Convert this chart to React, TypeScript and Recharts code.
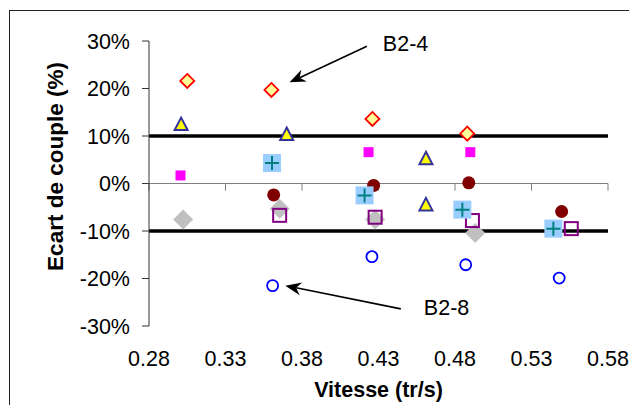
import { ScatterChart, Scatter, XAxis, YAxis, ReferenceLine } from "recharts";

const FONT = '"Liberation Sans", Arial, sans-serif';

const xTicks = [0.28, 0.33, 0.38, 0.43, 0.48, 0.53, 0.58];
const yTicks = [-30, -20, -10, 0, 10, 20, 30];
const limits = [10, -10];

// vitesse (tr/s) / écart de couple (%) per test series
const diamondX = [0.305, 0.36, 0.426, 0.488];
const diamondY = [21.6, 19.7, 13.6, 10.5];
const triangleX = [0.301, 0.37, 0.461, 0.461];
const triangleY = [12.4, 10.3, 5.2, -4.5];
const pinkX = [0.3006, 0.4235, 0.49];
const pinkY = [1.7, 6.6, 6.6];
const dotX = [0.3615, 0.4268, 0.489, 0.5497];
const dotY = [-2.4, -0.4, 0.15, -5.9];
const plusX = [0.3604, 0.4209, 0.4848, 0.5443];
const plusY = [4.3, -2.5, -5.5, -9.5];
const boxX = [0.3654, 0.4278, 0.4914, 0.556];
const boxY = [-6.7, -7.1, -7.8, -9.5];
const greyX = [0.3023, 0.3654, 0.4278, 0.4932];
const greyY = [-7.6, -5.3, -7.6, -10.4];
const ringX = [0.3608, 0.4257, 0.487, 0.5481];
const ringY = [-21.5, -15.4, -17.1, -19.9];

const arrowLabels = ["B2-4", "B2-8"];
const arrowStart = [[0.4224, 28.9], [0.4446, -26.4]];
const arrowTip = [[0.3719, 21.3], [0.3691, -21.5]];

const pts = (xs: number[], ys: number[]) => xs.map((x, i) => ({ x, y: ys[i] }));

const OpenDiamond = ({ cx, cy }: any) => (
  <polygon
    points={`${cx},${cy - 7} ${cx + 7},${cy} ${cx},${cy + 7} ${cx - 7},${cy}`}
    fill="#FFFF99"
    stroke="#FF0000"
    strokeWidth={1.8}
  />
);
const Triangle = ({ cx, cy }: any) => (
  <polygon
    points={`${cx},${cy - 7} ${cx + 6.5},${cy + 5.5} ${cx - 6.5},${cy + 5.5}`}
    fill="#FFFF00"
    stroke="#333399"
    strokeWidth={2}
  />
);
const PinkSquare = ({ cx, cy }: any) => (
  <rect x={cx - 5} y={cy - 5} width={10} height={10} fill="#FF00FF" />
);
const Dot = ({ cx, cy }: any) => <circle cx={cx} cy={cy} r={6.5} fill="#800000" />;
const PlusSquare = ({ cx, cy }: any) => (
  <g>
    <rect x={cx - 9} y={cy - 9} width={18} height={18} fill="#99CCFF" />
    <path d={`M${cx - 7},${cy}H${cx + 7}M${cx},${cy - 7}V${cy + 7}`} stroke="#008080" strokeWidth={2} />
  </g>
);
const Box = ({ cx, cy }: any) => (
  <rect x={cx - 6.5} y={cy - 6.5} width={13} height={13} fill="none" stroke="#800080" strokeWidth={2} />
);
const GreyDiamond = ({ cx, cy }: any) => (
  <polygon
    points={`${cx},${cy - 10} ${cx + 10},${cy} ${cx},${cy + 10} ${cx - 10},${cy}`}
    fill="#C0C0C0"
  />
);
const Ring = ({ cx, cy }: any) => (
  <circle cx={cx} cy={cy} r={5.5} fill="none" stroke="#0000FF" strokeWidth={1.8} />
);

function arrowShape(text: string, dx: number, dy: number) {
  return (p: any) => {
    const { x1, y1, x2, y2 } = p;
    const a = Math.atan2(y2 - y1, x2 - x1);
    const c = Math.cos(a);
    const s = Math.sin(a);
    const bx = x2 - 16 * c;
    const by = y2 - 16 * s;
    const nx = x2 - 11 * c;
    const ny = y2 - 11 * s;
    const head = `${x2},${y2} ${bx - 6.5 * s},${by + 6.5 * c} ${nx},${ny} ${bx + 6.5 * s},${by - 6.5 * c}`;
    return (
      <g>
        <line x1={x1} y1={y1} x2={nx} y2={ny} stroke="#000" strokeWidth={1.6} />
        <polygon points={head} fill="#000" />
        <text x={x1 + dx} y={y1 + dy} fontFamily={FONT} fontSize={21.5} fill="#000">
          {text}
        </text>
      </g>
    );
  };
}

const XTick = ({ x, y, payload }: any) => (
  <text x={x} y={y + 40} textAnchor="middle" fontFamily={FONT} fontSize={21.5} fill="#000">
    {payload.value.toFixed(2)}
  </text>
);

const YTick = ({ x, y, payload }: any) => (
  <text x={x} y={y + 7.5} textAnchor="end" fontFamily={FONT} fontSize={21.5} fill="#000">
    {`${payload.value}%`}
  </text>
);

const XTitle = ({ viewBox }: any) => (
  <text
    x={viewBox.x + viewBox.width / 2}
    y={viewBox.y + 71}
    textAnchor="middle"
    fontFamily={FONT}
    fontSize={21.5}
    fontWeight="bold"
    fill="#000"
  >
    Vitesse (tr/s)
  </text>
);

const YTitle = ({ viewBox }: any) => {
  const cx = viewBox.x + 47;
  const cy = viewBox.y + viewBox.height / 2 - 17;
  return (
    <text
      x={cx}
      y={cy}
      transform={`rotate(-90, ${cx}, ${cy})`}
      textAnchor="middle"
      dominantBaseline="central"
      fontFamily={FONT}
      fontSize={22.5}
      fontWeight="bold"
      fill="#000"
    >
      Ecart de couple (%)
    </text>
  );
};

export default function App() {
  return (
    <div
      style={{
        position: "fixed",
        left: 0,
        top: 0,
        width: 629,
        height: 405,
        overflow: "hidden",
        background: "#fff",
      }}
    >
      <div
        style={{
          position: "absolute",
          left: 9,
          top: 10,
          width: 640,
          height: 420,
          borderTop: "1px solid #222",
          borderLeft: "1px solid #222",
        }}
      />
      <ScatterChart
        width={621}
        height={397}
        margin={{ top: 33, right: 21, left: 0, bottom: 0 }}
        style={{ position: "absolute", left: 8, top: 8 }}
      >
        <XAxis
          type="number"
          dataKey="x"
          domain={[0.28, 0.58]}
          ticks={xTicks}
          axisLine={false}
          tickLine={false}
          tickSize={0}
          tickMargin={0}
          height={79}
          tick={<XTick />}
          label={<XTitle />}
        />
        <YAxis
          type="number"
          dataKey="y"
          domain={[-30, 30]}
          ticks={yTicks}
          width={141}
          axisLine={{ stroke: "#333", strokeWidth: 1 }}
          tickLine={{ stroke: "#333", strokeWidth: 1 }}
          tickSize={7}
          tickMargin={12}
          tick={<YTick />}
          label={<YTitle />}
        />
        <ReferenceLine y={0} stroke="#808080" strokeWidth={1} />
        {xTicks.map((t) => (
          <ReferenceLine
            key={t}
            segment={[
              { x: t, y: 0 },
              { x: t, y: -1.5 },
            ]}
            stroke="#808080"
            strokeWidth={1}
          />
        ))}
        {limits.map((v) => (
          <ReferenceLine key={v} y={v} stroke="#000" strokeWidth={3.5} />
        ))}
        <Scatter data={pts(greyX, greyY)} shape={<GreyDiamond />} isAnimationActive={false} />
        <Scatter data={pts(boxX, boxY)} shape={<Box />} isAnimationActive={false} />
        <Scatter data={pts(pinkX, pinkY)} shape={<PinkSquare />} isAnimationActive={false} />
        <Scatter data={pts(diamondX, diamondY)} shape={<OpenDiamond />} isAnimationActive={false} />
        <Scatter data={pts(triangleX, triangleY)} shape={<Triangle />} isAnimationActive={false} />
        <Scatter data={pts(dotX, dotY)} shape={<Dot />} isAnimationActive={false} />
        <Scatter data={pts(plusX, plusY)} shape={<PlusSquare />} isAnimationActive={false} />
        <Scatter data={pts(ringX, ringY)} shape={<Ring />} isAnimationActive={false} />
        {arrowLabels.map((lab, i) => (
          <ReferenceLine
            key={lab}
            segment={[
              { x: arrowStart[i][0], y: arrowStart[i][1] },
              { x: arrowTip[i][0], y: arrowTip[i][1] },
            ]}
            shape={arrowShape(lab, i === 0 ? 16 : 23, i === 0 ? 4.5 : 6)}
          />
        ))}
      </ScatterChart>
    </div>
  );
}
